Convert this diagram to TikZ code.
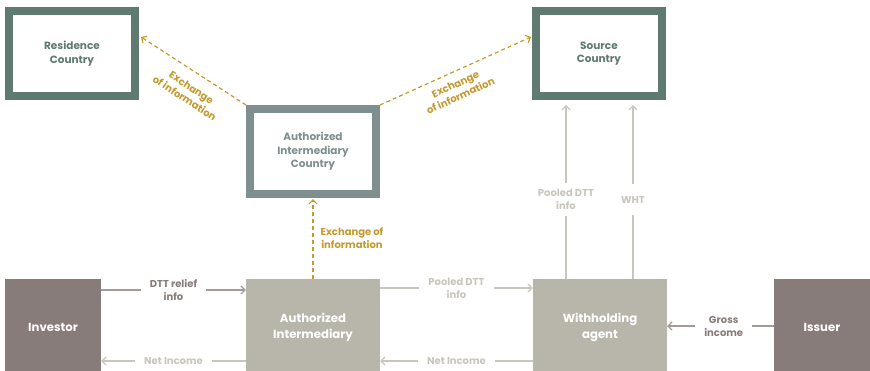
\documentclass[tikz,border=0pt]{standalone}
\usepackage{fontspec}
\setmainfont{Poppins}
\usetikzlibrary{arrows.meta}

\definecolor{countrygreen}{HTML}{5E7A71}
\definecolor{aicgrey}{HTML}{7F8F8F}
\definecolor{partybrown}{HTML}{877C79}
\definecolor{agentbeige}{HTML}{B8B6AB}
\definecolor{lightflow}{HTML}{C9C6BD}
\definecolor{darkflow}{HTML}{A39B98}
\definecolor{darklabel}{HTML}{877C79}
\definecolor{gold}{HTML}{C49A30}

\begin{document}
\begin{tikzpicture}[
  x=1pt, y=-1pt,
  country/.style={draw=#1, line width=8pt, fill=white, text=#1,
    minimum width=126pt, minimum height=85pt, inner sep=0pt, align=center,
    font=\bfseries\fontsize{10.5}{13.5}\selectfont},
  party/.style={fill=#1, draw=none, text=white, minimum height=96pt,
    inner sep=0pt, align=center, font=\bfseries\fontsize{11.7}{16}\selectfont},
  flow/.style={line width=1.2pt, draw=#1, -{Straight Barb[length=4pt,width=8pt]}},
  gaplabel/.style={fill=white, inner xsep=9pt, inner ysep=4pt, align=center,
    text=#1, font=\bfseries\fontsize{10}{13}\selectfont},
  exchange/.style={line width=1.2pt, draw=gold, dash pattern=on 4pt off 3pt,
    -{Straight Barb[length=4pt,width=8pt]}},
  exlabel/.style={text=gold, align=center, inner sep=0pt,
    font=\bfseries\fontsize{10}{12.5}\selectfont}
]
\useasboundingbox (0,0) rectangle (870,370);
\clip (0,0) rectangle (870,370);

% jurisdictions
\node[country=countrygreen] (res) at (72,53.5) {Residence\\Country};
\node[country=countrygreen] (src) at (599,53.5) {Source\\Country};
\node[country=aicgrey] (aic) at (313,151.5) {Authorized\\Intermediary\\Country};

% parties along the payment chain
\node[party=partybrown, minimum width=96pt] (inv) at (53,327) {Investor};
\node[party=agentbeige, minimum width=134pt] (ai) at (313,327) {Authorized\\Intermediary};
\node[party=agentbeige, minimum width=134pt] (wa) at (600,327) {Withholding\\agent};
\node[party=partybrown, minimum width=96pt] (iss) at (822,327) {Issuer};

% information and income flows
\draw[flow=darkflow] ([yshift=37pt]inv.east) -- node[gaplabel=darklabel] (dtt) {DTT relief\\info} ([yshift=37pt]ai.west);
\draw[flow=lightflow] ([yshift=-34pt]ai.west) -- node[gaplabel=lightflow] (ni1) {Net Income} ([yshift=-34pt]inv.east);
\draw[flow=lightflow] ([yshift=39pt]ai.east) -- node[gaplabel=lightflow] (pool) {Pooled DTT\\info} ([yshift=39pt]wa.west);
\draw[flow=lightflow] ([yshift=-34pt]wa.west) -- node[gaplabel=lightflow] (ni2) {Net Income} ([yshift=-34pt]ai.east);
\draw[flow=darkflow] ([yshift=1pt]iss.west) -- node[gaplabel=darklabel, pos=0.47] (gross) {Gross\\income} ([yshift=1pt]wa.east);

\draw[flow=lightflow] ([xshift=-34pt]wa.north) -- node[gaplabel=lightflow, pos=0.455, inner xsep=2pt, inner ysep=6pt] (poolv) {Pooled DTT\\info} ([xshift=-33pt,yshift=-5pt]src.south);
\draw[flow=lightflow] ([xshift=33pt]wa.north) -- node[gaplabel=lightflow, pos=0.455, inner xsep=2pt, inner ysep=12pt] (wht) {WHT} ([xshift=34pt,yshift=-5pt]src.south);

% exchange of information between jurisdictions
\draw[exchange] (ai.north) -- ([yshift=-1pt]aic.south);
\node[exlabel] (exv) at (352,238) {Exchange of\\information};

\draw[exchange] (aic.north west) -- ([xshift=2pt,yshift=16.5pt]res.east);
\node[exlabel, rotate=-33.3] (exl) at (188,93) {Exchange\\of information};

\draw[exchange] (aic.north east) -- ([xshift=-1pt,yshift=16.5pt]src.west);
\node[exlabel, rotate=24.6] (exr) at (458,90) {Exchange\\of information};
\end{tikzpicture}
\end{document}
